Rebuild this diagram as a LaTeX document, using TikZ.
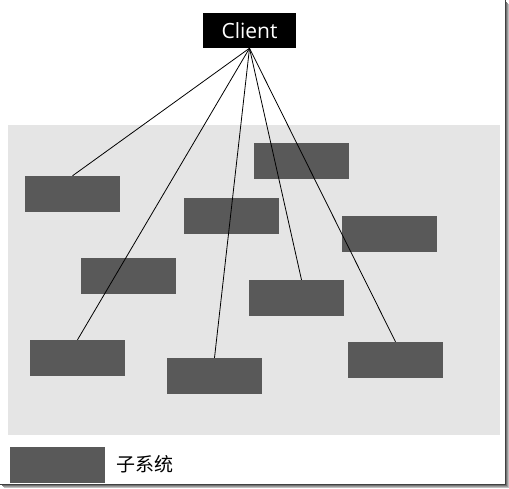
\documentclass[tikz,border=0pt]{standalone}
\usepackage{fontspec}
\newfontfamily\clientfont{Open Sans}
\newfontfamily\cjkfont{Noto Sans CJK SC}
\definecolor{bggray}{RGB}{229,229,229}
\definecolor{subgray}{RGB}{89,89,89}
\begin{document}
\begin{tikzpicture}[x=1pt,y=-1pt,
  subbox/.style={fill=subgray, draw=none, minimum width=95pt, minimum height=36pt, inner sep=0pt},
  clientbox/.style={fill=black, text=white, minimum width=93pt, minimum height=35pt, inner sep=0pt, font=\clientfont\fontsize{21}{24}\selectfont},
  conn/.style={draw=black, line width=0.8pt},
  frameline/.style={line width=1pt}]
\useasboundingbox (0,0) rectangle (509,488);
\fill[white] (0,0) rectangle (509,488);
% screenshot frame shadow
\draw[frameline, black!25] (508.5,4) -- (508.5,487.5) -- (4,487.5);
\draw[frameline, black!40] (507.5,3) -- (507.5,486.5) -- (3,486.5);
\draw[frameline, black!55] (506.5,2) -- (506.5,485.5) -- (2,485.5);
\draw[frameline, black!75] (505.5,0) -- (505.5,484.5) -- (0,484.5);
% background
\fill[bggray] (8,125) rectangle (500,435);
% client
\node[clientbox] (client) at (249.5,30.5) {Client};
% subsystems
\node[subbox] (a) at (72.5,194) {};
\node[subbox] (b) at (231.5,216) {};
\node[subbox] (c) at (301.5,161) {};
\node[subbox] (d) at (389.5,234) {};
\node[subbox] (e) at (128.5,276) {};
\node[subbox] (f) at (296.5,298) {};
\node[subbox] (g) at (77.5,358) {};
\node[subbox] (h) at (214.5,376) {};
\node[subbox] (i) at (395.5,360) {};
% legend
\node[subbox] (legend) at (57.5,465) {};
\node[anchor=west, inner sep=0pt, font=\cjkfont\fontsize{19}{22}\selectfont] (legendtext) at (116,464) {子系统};
% connectors
\draw[conn] (client.south) -- (a.north);
\draw[conn] (client.south) -- (g.north);
\draw[conn] (client.south) -- (h.north);
\draw[conn] (client.south) -- ([xshift=5pt]f.north);
\draw[conn] (client.south) -- (i.north);
\end{tikzpicture}
\end{document}
